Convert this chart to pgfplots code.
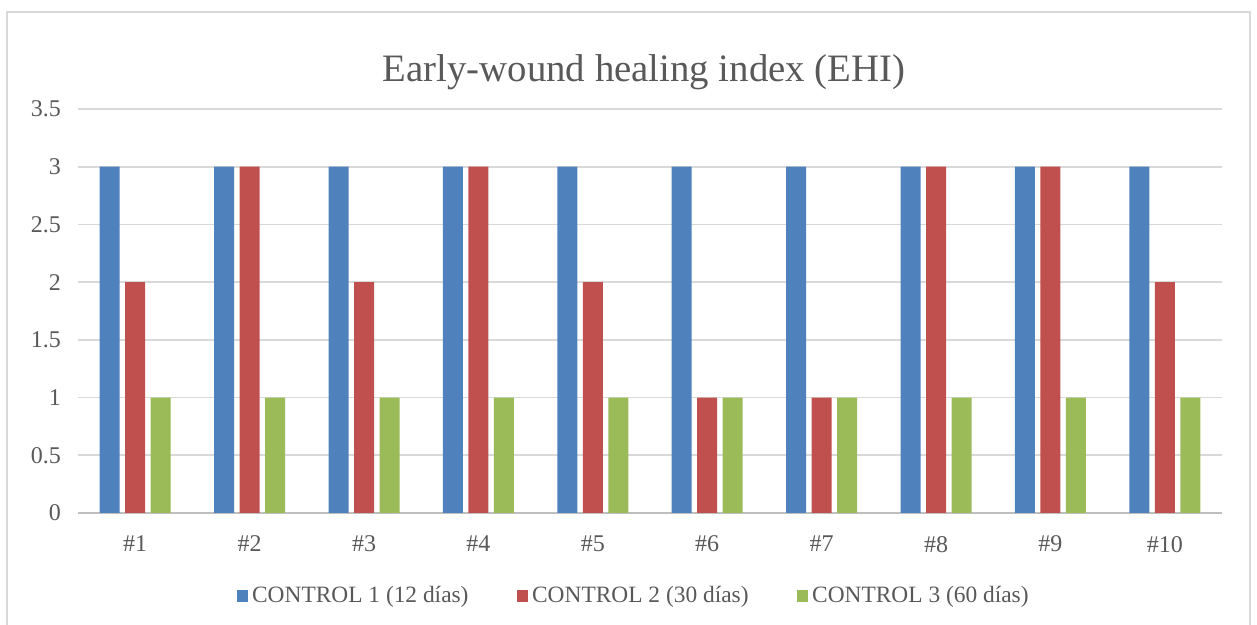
\documentclass[border=0pt]{standalone}
\usepackage{pgfplots}
\pgfplotsset{compat=1.18}
\usepackage{fontspec}
\setmainfont{Liberation Serif}
\definecolor{cblue}{HTML}{4F81BD}
\definecolor{cred}{HTML}{C0504D}
\definecolor{cgreen}{HTML}{9BBB59}
\definecolor{ctext}{HTML}{595959}
\definecolor{cgrid}{HTML}{D9D9D9}
\definecolor{caxis}{HTML}{BFBFBF}
\begin{document}
\begin{tikzpicture}
\useasboundingbox (-39pt,-56pt) rectangle (589.5pt,256.5pt);
\draw[cgrid, line width=0.8pt] (-35.5pt,-60pt) -- (-35.5pt,250.5pt) -- (586pt,250.5pt) -- (586pt,-60pt);
\begin{axis}[
  at={(0,0)}, anchor=origin,
  scale only axis,
  width=572pt, height=202pt,
  ybar=2.75pt, bar width=10pt,
  xmin=0, xmax=10,
  ymin=0, ymax=3.5,
  xtick={0.5,1.5,...,9.5},
  xticklabels={\#1,\#2,\#3,\#4,\#5,\#6,\#7,\#8,\#9,\#10},
  ytick={0,0.5,...,3.5},
  yticklabels={0,0.5,1,1.5,2,2.5,3,3.5},
  axis x line*=bottom,
  axis y line*=left,
  x axis line style={caxis, line width=0.8pt, -},
  y axis line style={draw=none},
  ymajorgrids, grid style={cgrid, line width=0.8pt},
  major tick length=0pt,
  tick style={draw=none},
  every tick label/.append style={font=\fontsize{12}{14}\selectfont, text=ctext},
  /pgf/number format/assume math mode=true,
  xticklabel style={yshift=-8pt},
  yticklabel style={xshift=-5pt},
  legend columns=3,
  legend style={draw=none, at={(axis description cs:0.4865,-0.2054)}, anchor=center,
    font=\fontsize{11.7}{13}\selectfont, text=ctext,
    /tikz/every even column/.append style={column sep=22pt}},
  legend image code/.code={\fill[#1] (0pt,-2.9pt) rectangle (5.8pt,2.9pt);},
  title={Early-wound healing index (EHI)},
  title style={font=\fontsize{19.4}{22}\selectfont, text=ctext, at={(rel axis cs:0.4948,1)}, anchor=center, yshift=12.5pt},
]
\addplot[fill=cblue, draw=none] coordinates {(0.5,3) (1.5,3) (2.5,3) (3.5,3) (4.5,3) (5.5,3) (6.5,3) (7.5,3) (8.5,3) (9.5,3)};
\addplot[fill=cred, draw=none] coordinates {(0.5,2) (1.5,3) (2.5,2) (3.5,3) (4.5,2) (5.5,1) (6.5,1) (7.5,3) (8.5,3) (9.5,2)};
\addplot[fill=cgreen, draw=none] coordinates {(0.5,1) (1.5,1) (2.5,1) (3.5,1) (4.5,1) (5.5,1) (6.5,1) (7.5,1) (8.5,1) (9.5,1)};
\legend{CONTROL 1 (12 días), CONTROL 2 (30 días), CONTROL 3 (60 días)}
\end{axis}
\end{tikzpicture}
\end{document}
